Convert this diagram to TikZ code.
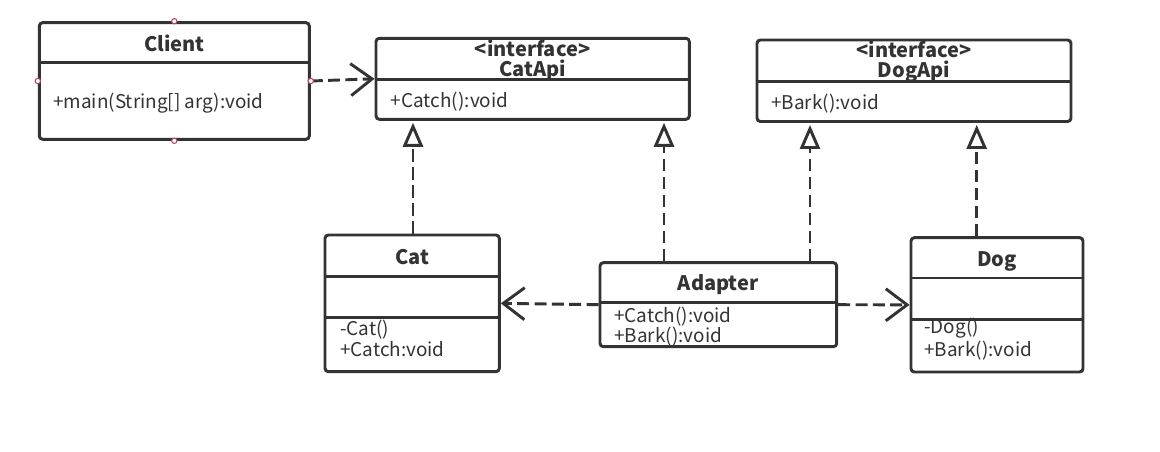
\documentclass[tikz,border=0pt]{standalone}
\usepackage{fontspec}
\setmainfont{Noto Sans CJK SC}
\usetikzlibrary{arrows.meta}
\definecolor{ink}{HTML}{333333}
\definecolor{handle}{HTML}{B5465F}
\tikzset{
  box/.style={draw=ink, line width=2.2pt, rounded corners=2.5pt, fill=white, inner sep=0pt},
  sep/.style={draw=ink, line width=2.2pt},
  ttl/.style={font=\bfseries\fontsize{15}{16}\selectfont, text=ink, inner sep=0pt, anchor=base},
  txt/.style={font=\fontsize{14.2}{15}\selectfont, text=ink, inner sep=0pt, anchor=base west},
  dep/.style={draw=ink, line width=2.2pt, dash pattern=on 9pt off 4pt,
    -{Straight Barb[length=16pt,width=24pt,line width=2.2pt]}},
  real/.style={draw=ink, line width=2.2pt, dash pattern=on 9.5pt off 4pt,
    -{Triangle[open,length=18pt,width=15pt,line width=2.2pt]}, shorten >=1.5pt},
  hd/.style={circle, draw=handle, fill=white, line width=0.8pt, minimum size=4pt, inner sep=0pt},
}
\newcommand\umlbox[5]{\node[box, minimum width={(#4-#2)*0.75pt}, minimum height={(#5-#3)*0.75pt}] (#1) at ({(#2+#4)/2},{(#3+#5)/2}) {};}
\newcommand\divider[2]{\draw[sep] (#1.west |- 0,#2) -- (#1.east |- 0,#2);}
\begin{document}
\begin{tikzpicture}[x=0.75pt,y=-0.75pt]
\fill[white] (0,0) rectangle (1160,452);
\useasboundingbox (0,0) rectangle (1160,452);

% Client
\umlbox{client}{39.3}{22.7}{309.3}{139.3}
\divider{client}{62.7}
\node[ttl] (clientT) at (174.3,51.5) {Client};
\node[txt] (clientM) at (53,108.5) {+main(String[] arg):void};

% CatApi
\umlbox{catapi}{376}{38.3}{689.3}{119.3}
\divider{catapi}{79.3}
\node[ttl] (catapiS) at (532.6,56.5) {<interface>};
\node[ttl] (catapiT) at (532.6,76.5) {CatApi};
\node[txt] (catapiM) at (390.7,108) {+Catch():void};

% DogApi
\umlbox{dogapi}{757}{40}{1071}{121.5}
\divider{dogapi}{81.7}
\node[ttl] (dogapiS) at (914,58) {<interface>};
\node[ttl] (dogapiT) at (914,78) {DogApi};
\node[txt] (dogapiM) at (771,110) {+Bark():void};

% Cat
\umlbox{cat}{325}{235}{499.3}{371.7}
\divider{cat}{276.7}
\divider{cat}{317.3}
\node[ttl] (catT) at (412.2,264.3) {Cat};
\node[txt] (catM1) at (340,335) {-Cat()};
\node[txt] (catM2) at (340,356) {+Catch:void};

% Adapter
\umlbox{adapter}{600}{262.7}{836.7}{346.7}
\divider{adapter}{302.7}
\node[ttl] (adapterT) at (718.3,290.7) {Adapter};
\node[txt] (adapterM1) at (614,322.3) {+Catch():void};
\node[txt] (adapterM2) at (614,342) {+Bark():void};

% Dog
\umlbox{dog}{911}{237.7}{1083}{372}
\divider{dog}{278}
\divider{dog}{319.5}
\node[ttl] (dogT) at (997,267) {Dog};
\node[txt] (dogM1) at (924,334) {-Dog()};
\node[txt] (dogM2) at (924,356.7) {+Bark():void};

% connector x positions
\coordinate (xa) at (413,0);
\coordinate (xb) at (664,0);
\coordinate (xc) at (810,0);
\coordinate (xd) at (976.7,0);

% dependencies
\draw[dep] (client.east) -- (catapi.west);
\draw[dep] (adapter.west) -- (cat.east);
\draw[dep] (adapter.east) -- (dog.west);

% realizations
\draw[real] (cat.north -| xa) -- (catapi.south -| xa);
\draw[real] (adapter.north -| xb) -- (catapi.south -| xb);
\draw[real] (adapter.north -| xc) -- (dogapi.south -| xc);
\draw[real] (dog.north -| xd) -- (dogapi.south -| xd);

% selection handles
\node[hd] (h1) at (client.north) {};
\node[hd] (h2) at (client.west) {};
\node[hd] (h3) at (client.east) {};
\node[hd] (h4) at (client.south) {};
\end{tikzpicture}
\end{document}
